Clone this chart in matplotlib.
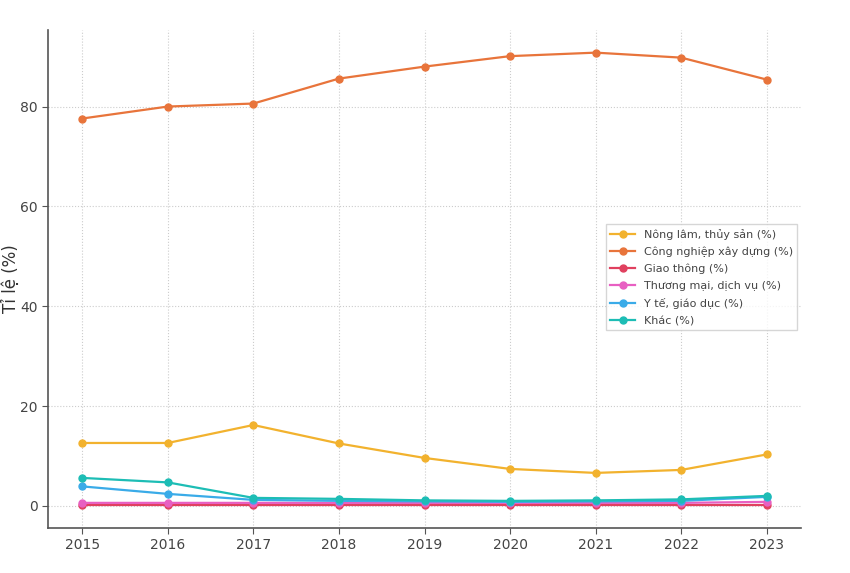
import matplotlib
matplotlib.use("Agg")
import matplotlib.pyplot as plt

years = [2015, 2016, 2017, 2018, 2019, 2020, 2021, 2022, 2023]
nong_lam = [12.6, 12.6, 16.2, 12.5, 9.6, 7.4, 6.6, 7.2, 10.3]
cong_nghiep = [77.6, 80.0, 80.6, 85.6, 88.0, 90.1, 90.8, 89.8, 85.4]
giao_thong = [0.1, 0.1, 0.1, 0.1, 0.1, 0.1, 0.1, 0.1, 0.1]
thuong_mai = [0.6, 0.6, 0.6, 0.6, 0.6, 0.6, 0.6, 0.6, 0.8]
y_te = [3.9, 2.4, 1.2, 1.0, 0.9, 0.8, 0.9, 1.0, 1.8]
khac = [5.6, 4.7, 1.6, 1.4, 1.1, 1.0, 1.1, 1.3, 2.0]

series = [
    ("Nông lâm, thủy sản (%)", nong_lam, "#F2B22E"),
    ("Công nghiệp xây dựng (%)", cong_nghiep, "#E8743B"),
    ("Giao thông (%)", giao_thong, "#E0405F"),
    ("Thương mại, dịch vụ (%)", thuong_mai, "#E85FC2"),
    ("Y tế, giáo dục (%)", y_te, "#3AABE8"),
    ("Khác (%)", khac, "#1DBDB5"),
]

fig = plt.figure(figsize=(8.5, 5.73), dpi=100)
ax = fig.add_axes([48/850, 45/573, 753/850, 498/573])

for label, vals, color in series:
    ax.plot(years, vals, marker="o", markersize=5, linewidth=1.6, color=color, label=label)

ax.set_yticks([0, 20, 40, 60, 80])
ax.set_xticks(years)
ax.grid(True, linestyle=":", color="#cccccc", linewidth=0.8)
for s in ["top", "right"]:
    ax.spines[s].set_visible(False)
for s in ["left", "bottom"]:
    ax.spines[s].set_color("#555555")
    ax.spines[s].set_linewidth(1.2)
ax.tick_params(colors="#555555", labelsize=10, length=4)
for lbl in ax.get_xticklabels() + ax.get_yticklabels():
    lbl.set_color("#444444")
ax.set_ylabel("Tỉ lệ (%)", fontsize=12, color="#333333")
ax.yaxis.set_label_coords(-0.037, 0.5)

leg = ax.legend(loc="upper right", bbox_to_anchor=(0.995, 0.61), fontsize=8,
                borderaxespad=0, frameon=True, fancybox=False, edgecolor="#cccccc",
                labelcolor="#444444", handlelength=2.2, labelspacing=0.62)

fig.savefig("out.png", dpi=100, facecolor="white")
